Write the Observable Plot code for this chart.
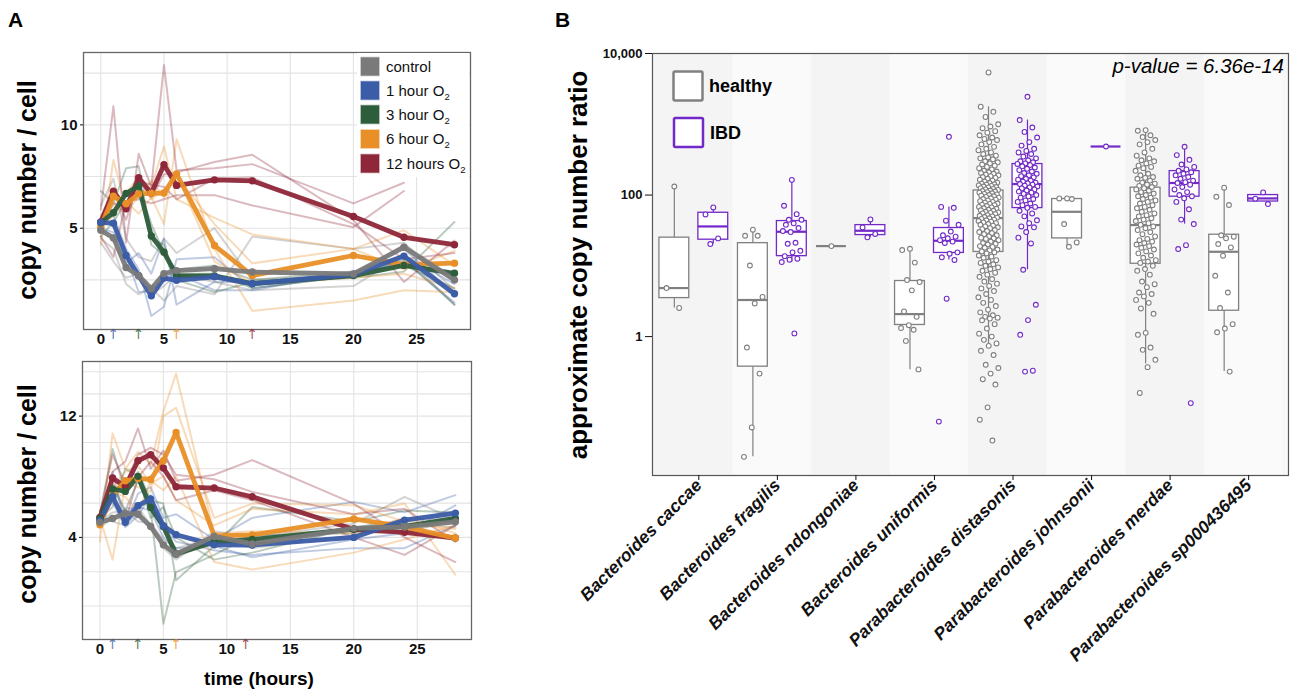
<!DOCTYPE html>
<html>
<head>
<meta charset="utf-8">
<script src="https://cdn.jsdelivr.net/npm/d3@7"></script>
<script src="https://cdn.jsdelivr.net/npm/@observablehq/plot@0.6"></script>
<style>
  html, body { margin:0; padding:0; background:#fff; }
  #root { position:relative; width:1290px; height:692px; overflow:hidden; background:#fff; font-family:"Liberation Sans", Arial, Helvetica, sans-serif; }
  .plotB [aria-label="x-axis tick label"] text { font-style: italic; }
</style>
</head>
<body>
<div id="root"></div>
<script>
const FONT = '"Liberation Sans", Arial, Helvetica, sans-serif';

// ---------------- Panel A data ----------------
const times = [0, 1, 2, 3, 4, 5, 6, 9, 12, 20, 24, 28];
const conditions = ["control", "1 hour O₂", "3 hour O₂", "6 hour O₂", "12 hours O₂"];
const condColors = ["#7a7a7a", "#3b5ca6", "#2e5d3c", "#e88f27", "#8e2739"];
const o2EndTop = [1, 3, 6, 12];
const o2EndBottom = [1, 3, 6, 11.5];
const xTicksA = [0, 5, 10, 15, 20, 25];
const topYTicks = [5, 10];
const bottomYTicks = [4, 12];

// top panel: mean trajectories
const topMeanControl = [4.9, 4.53, 3.1, 2.7, 2.07, 2.8, 2.95, 3.04, 2.88, 2.79, 4.08, 2.5];
const topMean1h = [5.28, 5.24, 3.68, 2.7, 1.73, 2.59, 2.48, 2.65, 2.31, 2.76, 3.65, 1.83];
const topMean3h = [5.26, 5.75, 6.68, 7.05, 4.62, 3.84, 2.69, 2.69, 2.32, 2.71, 3.2, 2.82];
const topMean6h = [5.05, 6.55, 6.18, 6.66, 6.69, 6.7, 7.63, 4.16, 2.71, 3.68, 3.24, 3.31];
const topMean12h = [5.3, 6.79, 5.94, 7.44, 6.69, 8.07, 7.07, 7.34, 7.29, 5.57, 4.56, 4.2];

// top panel: replicates
const topRepsControl = [
  [6.1, 7.4, 4.5, 3.6, 3.4, 4.5, 3.8, 5.0, 2.5, 2.7, 4.2, 2.6],
  [4.5, 4.0, 2.3, 1.8, 2.1, 1.5, 2.2, 1.8, 4.6, 4.0, 4.3, 2.0],
  [4.3, 3.4, 2.6, 2.8, 1.8, 2.2, 2.8, 2.4, 2.0, 2.2, 3.7, 1.3]
];
const topReps1h = [
  [5.5, 5.6, 4.0, 3.0, 0.75, 1.2, 3.5, 3.6, 2.1, 2.7, 3.4, 1.4],
  [5.0, 4.8, 3.3, 3.8, 2.8, 4.5, 1.3, 2.4, 2.4, 2.8, 4.0, 1.8],
  [5.3, 5.2, 3.7, 1.9, 2.0, 2.6, 2.8, 2.0, 2.0, 2.9, 3.7, 2.3]
];
const topReps3h = [
  [6.8, 6.2, 7.9, 8.0, 4.5, 4.2, 2.5, 1.9, 2.4, 2.6, 2.9, 5.3],
  [4.6, 5.3, 6.3, 7.0, 5.2, 3.8, 2.8, 2.8, 2.1, 2.7, 3.5, 1.3],
  [4.9, 6.6, 6.1, 7.3, 4.2, 3.7, 3.0, 3.2, 2.5, 2.9, 3.2, 2.1]
];
const topReps6h = [
  [4.2, 8.3, 6.0, 6.7, 7.0, 8.95, 6.4, 5.5, 4.7, 4.0, 4.9, 3.2],
  [5.0, 5.6, 6.3, 5.7, 6.5, 5.2, 9.3, 4.0, 1.0, 1.5, 2.0, 1.9],
  [5.6, 6.6, 5.8, 6.5, 7.3, 6.5, 7.6, 3.4, 2.3, 2.6, 2.8, 2.1],
  [5.3, 6.1, 6.7, 7.5, 6.4, 6.8, 7.5, 5.2, 3.3, 4.0, 3.0, 3.9]
];
const topReps12h = [
  [5.9, 10.9, 4.3, 8.6, 7.0, 12.9, 7.8, 7.9, 8.1, 6.2, 7.2, null],
  [5.2, 6.2, 6.0, 7.4, 6.5, 7.6, 7.7, 8.2, 8.55, 5.4, 2.4, 4.4],
  [4.6, 3.6, 6.3, 6.4, 6.2, 6.4, 6.6, 6.6, 6.1, 5.05, 6.8, null],
  [5.4, 6.8, 5.4, 7.3, 7.1, 7.0, 6.4, 7.4, 7.45, 5.2, 3.5, 3.8]
];

// bottom panel: mean trajectories
const botMeanControl = [4.76, 4.97, 5.24, 5.2, 4.55, 3.65, 3.24, 4.05, 3.69, 4.45, 4.53, 4.79];
const botMean1h = [4.85, 6.22, 4.76, 5.68, 6.07, 4.58, 4.13, 3.65, 3.64, 4.0, 4.88, 5.26];
const botMean3h = [4.97, 6.68, 6.53, 7.49, 5.58, 4.55, 3.24, 3.78, 3.9, 4.41, 4.55, 4.97];
const botMean6h = [4.64, 6.33, 7.2, 7.35, 7.29, 8.56, 10.67, 4.08, 4.12, 4.94, 4.53, 3.97];
const botMean12h = [5.02, 7.38, 6.82, 8.56, 8.99, 8.05, 6.82, 6.74, 6.2, 4.4, 4.25, 3.97];

// bottom panel: replicates
const botRepsControl = [
  [4.5, 5.0, 5.5, 5.6, 4.6, 3.5, 3.0, 4.3, 4.0, 4.7, 6.2, 4.9],
  [5.0, 4.8, 4.6, 5.3, 4.4, 3.6, 3.1, 3.9, 3.5, 4.1, 4.7, 4.5],
  [4.8, 5.3, 5.4, 4.8, 4.7, 3.9, 3.5, 4.0, 3.6, 4.5, 4.9, 5.0]
];
const botReps1h = [
  [4.5, 7.8, 4.6, 6.4, 6.8, 5.0, 5.2, 3.9, 5.0, 5.9, 5.3, 6.3],
  [5.0, 5.9, 4.5, 5.1, 6.3, 4.5, 3.8, 3.4, 3.2, 3.5, 3.5, 4.6],
  [4.9, 6.8, 5.3, 5.6, 5.4, 4.0, 3.5, 3.6, 3.1, 3.9, 4.2, 5.7]
];
const botReps3h = [
  [5.2, 9.4, 6.5, 7.8, 6.0, 5.8, 2.2, 3.6, 5.6, 4.8, 5.4, 5.3],
  [4.6, 7.0, 5.4, 7.2, 5.5, 0.92, 2.5, 3.2, 4.1, 4.2, 4.3, 4.8],
  [5.0, 5.6, 8.0, 7.5, 5.0, 5.6, 4.0, 3.0, 3.3, 4.5, 4.8, null]
];
const botReps6h = [
  [3.8, 10.6, 8.0, 9.2, 8.3, 12.4, 15.8, 4.2, 4.3, 4.2, 5.0, 4.2],
  [5.0, 3.0, 7.0, 6.8, 6.5, 12.0, 12.7, 5.0, 5.8, 5.7, 4.8, 4.4],
  [4.5, 6.5, 6.2, 5.3, 7.2, 6.6, 7.5, 2.9, 2.6, 3.3, 3.9, 4.6],
  [5.2, 6.8, 7.8, 8.2, 7.0, 7.5, 6.0, 4.6, 5.5, 5.2, 5.8, 2.4]
];
const botReps12h = [
  [4.7, 7.8, 8.5, 11.0, 8.0, 9.3, 7.2, 7.6, 8.6, 5.8, 4.0, 2.9],
  [5.2, 9.0, 7.0, 9.0, 9.5, 9.0, 7.6, 7.3, 6.5, 5.2, 5.5, 3.8],
  [5.4, 6.0, 4.8, 7.4, 8.5, 7.5, 6.0, 6.6, 6.0, 4.0, 3.2, 4.6]
];

// ---------------- Panel B data ----------------
const species = ["Bacteroides caccae", "Bacteroides fragilis", "Bacteroides ndongoniae", "Bacteroides uniformis",
  "Parabacteroides distasonis", "Parabacteroides johnsonii", "Parabacteroides merdae", "Parabacteroides sp000436495"];

const healthyQ1  = [3.5, 0.376, 19, 1.46, 15.7, 24.4, 10.7, 2.32];
const healthyMed = [4.85, 3.29, 19, 2.08, 47.3, 58, 37.7, 15.8];
const healthyQ3  = [25, 20.9, 19, 6.1, 116, 87.8, 127, 27.5];
const healthyLo  = [2.54, 0.02, 19, 0.34, 0.74, 18.6, 0.41, 0.32];
const healthyHi  = [132, 32.4, 19, 17.4, 1765, 89.6, 828, 127];

const ibdQ1  = [23.4, 13.7, 27.2, 15.2, 65.5, 485, 94.8, 81];
const ibdMed = [36, 30.3, 31.3, 22.6, 143, 485, 148, 89.6];
const ibdQ3  = [56.2, 42.9, 37.6, 34.2, 274, 485, 218, 100];
const ibdLo  = [20.3, 11.3, 25.3, 12.1, 8.8, 485, 38.9, 81];
const ibdHi  = [64.6, 164, 45.2, 68, 1148, 485, 481, 109];

const caccaeH = [132, 4.85, 2.54];
const caccaeI = [66.9, 53.2, 24.4, 20.3];
const fragilisH = [32.4, 26.6, 26.6, 10.1, 3.63, 2.94, 0.70, 0.30, 0.052, 0.02];
const fragilisI = [164, 70.6, 53.7, 44.8, 44.8, 39.8, 38, 34.2, 30, 31, 21.2, 20.5, 16.3, 15.5, 13.7, 12.6, 12.2, 11.3, 1.11];
const ndongoniaeH = [19];
const ndongoniaeI = [45.2, 34.9, 28.2, 25.3];
const uniformisH = [17.4, 16.7, 11.1, 6.3, 5.9, 4.5, 2.27, 1.9, 1.45, 1.32, 1.25, 0.87, 0.344];
const uniformisI = [665, 68, 66, 43.4, 38, 30.5, 27, 25.8, 24.5, 23, 22, 21, 15.5, 14.8, 13.2, 12.1, 3.43, 0.063];
const distasonisH = [5400, 1770, 1500, 1270, 1000, 930, 880, 800, 760, 700, 650, 620, 600, 560, 520, 480, 450, 430, 400, 380,
  360, 340, 330, 320, 300, 290, 280, 270, 260, 250, 240, 230, 220, 215, 210, 205, 200, 195, 190, 185, 180, 175, 170, 165,
  160, 155, 150, 148, 145, 142, 140, 137, 135, 132, 130, 128, 125, 122, 120, 118, 116, 114, 112, 110, 108, 106, 104, 102,
  100, 98, 96, 94, 92, 90, 88, 86, 84, 82, 80, 78, 76, 75, 73, 72, 70, 68, 67, 65, 64, 62, 61, 60, 58, 57, 56, 55, 54, 52,
  51, 50, 49, 48, 47, 46, 45, 44, 43, 42, 41, 40, 39, 38, 37, 36, 35, 34, 33, 32, 31, 30, 29, 28, 27, 26, 25, 24.5, 24, 23,
  22, 21, 20.5, 20, 19, 18.5, 18, 17, 16.5, 16, 15.5, 15, 14, 13.5, 13, 12, 11.5, 11, 10.5, 10, 9.5, 9, 8.5, 8, 7.5, 7, 6.5,
  6, 5.6, 5.2, 4.8, 4.4, 4, 3.6, 3.3, 3, 2.7, 2.4, 2.2, 2, 1.9, 1.85, 1.8, 1.7, 1.5, 1.3, 1.1, 1.0, 0.9, 0.8, 0.74, 0.63,
  0.55, 0.4, 0.36, 0.3, 0.25, 0.21, 0.1, 0.067, 0.034];
const distasonisI = [2443, 1148, 900, 780, 650, 560, 500, 450, 420, 400, 380, 350, 330, 310, 300, 290, 280, 275, 265, 255,
  245, 235, 225, 215, 205, 200, 190, 185, 178, 170, 165, 160, 155, 150, 146, 143, 140, 136, 132, 128, 124, 120, 116, 112,
  108, 104, 100, 96, 92, 88, 84, 80, 76, 72, 68, 66, 60, 55, 50, 44, 40, 36, 35, 30, 25, 20.7, 8.8, 2.82, 1.71, 1.06, 0.33, 0.32];
const johnsoniiH = [89.6, 89.6, 88, 38.9, 21.4, 18.6];
const johnsoniiI = [485];
const merdaeH = [828, 810, 700, 660, 600, 560, 520, 450, 400, 360, 330, 310, 300, 280, 260, 250, 240, 220, 200, 190, 180,
  175, 170, 160, 150, 145, 140, 135, 130, 125, 120, 115, 110, 105, 100, 96, 92, 88, 84, 80, 76, 72, 68, 65, 62, 58, 55, 52,
  50, 47, 45, 43, 40, 38, 36, 34, 32, 30, 28, 26, 24, 23, 22, 21, 20, 19, 18, 17, 16, 15, 14, 13, 12, 11.5, 11, 10, 9, 8.5,
  7.5, 6, 5.5, 5, 4.2, 4, 3.7, 3.3, 3, 2.5, 2.1, 1.13, 1.06, 0.7, 0.65, 0.47, 0.37, 0.16];
const merdaeI = [481, 367, 315, 270, 250, 230, 220, 210, 200, 190, 180, 170, 160, 152, 148, 140, 130, 120, 110, 100, 96, 90,
  80, 63, 45, 38.9, 19.6, 17.3, 0.115];
const spH = [127, 94.6, 72.4, 27, 25.8, 24.5, 20.3, 18.2, 13.9, 7.24, 4.2, 2.53, 1.5, 1.3, 1.15, 0.32];
const spI = [109, 89, 74.6];

const healthyPoints = [caccaeH, fragilisH, ndongoniaeH, uniformisH, distasonisH, johnsoniiH, merdaeH, spH];
const ibdPoints = [caccaeI, fragilisI, ndongoniaeI, uniformisI, distasonisI, johnsoniiI, merdaeI, spI];

// ---------------- Build rows ----------------
const root = document.getElementById("root");
function place(el, left, top) {
  el.style.position = "absolute";
  el.style.left = left + "px";
  el.style.top = top + "px";
  root.appendChild(el);
}
function repRows(groups, prefix) {
  const rows = [];
  groups.forEach((reps, c) => reps.forEach((vals, r) => vals.forEach((v, j) => {
    if (v != null) rows.push({t: times[j], v, c: conditions[c], id: prefix + c + "-" + r});
  })));
  return rows;
}
function meanRows(means) {
  const rows = [];
  [4, 3, 2, 1, 0].forEach(c => means[c].forEach((v, j) => rows.push({t: times[j], v, c: conditions[c]})));
  return rows;
}
const topRepRows = repRows([topRepsControl, topReps1h, topReps3h, topReps6h, topReps12h], "t");
const botRepRows = repRows([botRepsControl, botReps1h, botReps3h, botReps6h, botReps12h], "b");
const topMeanRows = meanRows([topMeanControl, topMean1h, topMean3h, topMean6h, topMean12h]);
const botMeanRows = meanRows([botMeanControl, botMean1h, botMean3h, botMean6h, botMean12h]);
const arrowRowsTop = o2EndTop.map((t, i) => ({t, c: conditions[i + 1]}));
const arrowRowsBot = o2EndBottom.map((t, i) => ({t, c: conditions[i + 1]}));

// grid values (ggplot-style major + minor)
const topGridVals = [2.5, 5, 7.5, 10, 12.5];
const sqrtMajors = [4, 8, 12, 16].map(Math.sqrt);
const sqrtStep = sqrtMajors[1] - sqrtMajors[0];
const sqrtAll = [sqrtMajors[0] - sqrtStep, ...sqrtMajors];
const botGridVals = [];
sqrtAll.forEach((s, k) => {
  botGridVals.push(s * s);
  if (k < sqrtAll.length - 1) botGridVals.push(((s + sqrtAll[k + 1]) / 2) ** 2);
});

const gridCol = "#e3e3e3";
function panelA(opts) {
  return Plot.plot({
    width: 480, height: opts.height,
    marginLeft: opts.ml, marginRight: opts.mr, marginTop: opts.mt, marginBottom: opts.mb,
    x: {domain: [-1.37, 29.27], axis: null},
    y: {...opts.y, axis: null},
    color: {domain: conditions, range: condColors},
    style: {fontFamily: FONT, background: "transparent", overflow: "visible", color: "#111"},
    marks: [
      Plot.gridX(xTicksA, {stroke: gridCol, strokeOpacity: 1, strokeWidth: 1.1}),
      Plot.gridY(opts.grid, {stroke: gridCol, strokeOpacity: 1, strokeWidth: 1.1}),
      Plot.line(opts.reps, {x: "t", y: "v", z: "id", stroke: "c", strokeWidth: 2, strokeOpacity: 0.32}),
      Plot.line(opts.means, {x: "t", y: "v", z: "c", stroke: "c", strokeWidth: 4.8, strokeOpacity: 0.95, strokeLinejoin: "round"}),
      Plot.dot(opts.means, {x: "t", y: "v", fill: "c", r: 3.7}),
      Plot.frame({stroke: "#666", strokeWidth: 1.3}),
      Plot.axisY(opts.yTicks, {tickSize: 3, tickPadding: 3, fontSize: 15, fontWeight: "bold", label: null}),
      Plot.axisX(xTicksA, {tickSize: 0, tickPadding: 4, fontSize: 15, fontWeight: "bold", label: null}),
      Plot.text(opts.arrows, {x: "t", fill: "c", text: () => "↑", frameAnchor: "bottom", lineAnchor: "top", dy: 0,
        fontSize: 14, fontFamily: "DejaVu Sans", fillOpacity: 0.8})
    ]
  });
}

const topPlot = panelA({height: 345, ml: 83, mr: 10, mt: 52, mb: 16,
  y: {domain: [0.1, 13.5]}, grid: topGridVals, yTicks: topYTicks,
  reps: topRepRows, means: topMeanRows, arrows: arrowRowsTop});
place(topPlot, 0, 0);

const botPlot = panelA({height: 347, ml: 82, mr: 9, mt: 16, mb: 53,
  y: {type: "sqrt", domain: [0.59, 17.0]}, grid: botGridVals, yTicks: bottomYTicks,
  reps: botRepRows, means: botMeanRows, arrows: arrowRowsBot});
place(botPlot, 0, 345);

// ---------------- Panel B ----------------
const xDomB = [-0.526, 7.571];
const idx = d3.range(species.length);
function boxRows(q1, med, q3, lo, hi) {
  return idx.map(i => ({i, q1: q1[i], med: med[i], q3: q3[i], lo: lo[i], hi: hi[i]}));
}
const jit = k => (((k * 0.6180339887 + 0.5) % 1) - 0.5) * 0.26;
function pointRows(groups) {
  return groups.flatMap((vals, i) => vals.map((v, k) => ({i, v, j: jit(k)})));
}
const hBoxes = boxRows(healthyQ1, healthyMed, healthyQ3, healthyLo, healthyHi);
const iBoxes = boxRows(ibdQ1, ibdMed, ibdQ3, ibdLo, ibdHi);
const hPts = pointRows(healthyPoints);
const iPts = pointRows(ibdPoints);
const healthyColor = "#808080";
const ibdColor = "#7229c7";

function groupMarks(boxes, pts, color, off) {
  const hw = 0.19;
  return [
    Plot.ruleX(boxes, {x: d => d.i + off, y1: "q3", y2: "hi", stroke: color, strokeWidth: 1.2}),
    Plot.ruleX(boxes, {x: d => d.i + off, y1: "lo", y2: "q1", stroke: color, strokeWidth: 1.2}),
    Plot.rect(boxes, {x1: d => d.i + off - hw, x2: d => d.i + off + hw, y1: "q1", y2: "q3", fill: "white", stroke: color, strokeWidth: 1.3}),
    Plot.ruleY(boxes, {y: "med", x1: d => d.i + off - hw, x2: d => d.i + off + hw, stroke: color, strokeWidth: 2.2}),
    Plot.dot(pts, {x: d => d.i + off + d.j, y: "v", r: 2.4, stroke: color, fill: "white", strokeWidth: 1.1})
  ];
}

const plotB = Plot.plot({
  className: "plotB",
  width: 730, height: 692,
  marginLeft: 92, marginRight: 2, marginTop: 53, marginBottom: 217,
  x: {domain: xDomB, axis: null},
  y: {type: "log", domain: [0.0109, 10000], axis: null},
  style: {fontFamily: FONT, background: "transparent", overflow: "visible", color: "#111"},
  marks: [
    Plot.frame({fill: "#f7f7f7"}),
    Plot.rect(idx.filter(i => i % 2 === 0), {x1: i => Math.max(i - 0.5, xDomB[0]), x2: i => Math.min(i + 0.5, xDomB[1]), fill: "#f4f4f4"}),
    Plot.rect(idx.filter(i => i % 2 === 1), {x1: i => Math.max(i - 0.5, xDomB[0]), x2: i => Math.min(i + 0.5, xDomB[1]), fill: "#fafafa"}),
    ...groupMarks(hBoxes, hPts, healthyColor, -0.248),
    ...groupMarks(iBoxes, iPts, ibdColor, 0.248),
    Plot.frame({stroke: "#555", strokeWidth: 1.2}),
    Plot.axisY([1, 100, 10000], {tickFormat: d3.format(","), tickSize: 7, tickPadding: 3, fontSize: 13, fontWeight: "bold", label: null}),
    Plot.axisX(idx, {tickFormat: i => species[i], tickRotate: -45, tickSize: 5, tickPadding: 2, dx: 5,
      fontSize: 17.5, fontWeight: "bold", fontStyle: "italic", label: null})
  ]
});
place(plotB, 560, 0);

// ---------------- Overlay text, legends ----------------
const ov = d3.create("svg").attr("width", 1290).attr("height", 692)
  .style("font-family", FONT).style("pointer-events", "none").style("overflow", "visible");
place(ov.node(), 0, 0);

ov.append("text").attr("x", 8).attr("y", 27).attr("font-size", 21).attr("font-weight", "bold").text("A");
ov.append("text").attr("x", 555).attr("y", 27).attr("font-size", 21).attr("font-weight", "bold").text("B");

[190, 494].forEach(cy => {
  ov.append("text").attr("transform", `translate(36,${cy}) rotate(-90)`).attr("text-anchor", "middle")
    .attr("font-size", 25).attr("font-weight", "bold").text("copy number / cell");
});
ov.append("text").attr("x", 259).attr("y", 685).attr("text-anchor", "middle")
  .attr("font-size", 19).attr("font-weight", "bold").text("time (hours)");
ov.append("text").attr("transform", "translate(587,265) rotate(-90)").attr("text-anchor", "middle")
  .attr("font-size", 26).attr("font-weight", "bold").text("approximate copy number ratio");
ov.append("text").attr("x", 1284).attr("y", 73).attr("text-anchor", "end")
  .attr("font-size", 20.5).attr("font-style", "italic").text("p-value = 6.36e-14");

// Legend A
ov.append("rect").attr("x", 357).attr("y", 53).attr("width", 112).attr("height", 124).attr("fill", "white");
const keyTops = [57.5, 81.5, 105.5, 130, 154.5];
conditions.forEach((label, c) => {
  const y0 = keyTops[c];
  ov.append("rect").attr("x", 361).attr("y", y0).attr("width", 18).attr("height", 18)
    .attr("fill", condColors[c]).attr("stroke", condColors[c]).attr("stroke-opacity", 0.5).attr("stroke-width", 1.5);
  const base = label.replace("₂", "");
  const t = ov.append("text").attr("x", 386).attr("y", y0 + 14).attr("font-size", 15).attr("fill", "#111");
  t.append("tspan").text(base);
  if (base !== label) t.append("tspan").attr("font-size", 9.5).attr("dy", 4).text("2");
});

// Legend B
ov.append("rect").attr("x", 673.5).attr("y", 71.5).attr("width", 29).attr("height", 29).attr("rx", 1.5)
  .attr("fill", "white").attr("stroke", healthyColor).attr("stroke-width", 2.5);
ov.append("text").attr("x", 709).attr("y", 92).attr("font-size", 18).attr("font-weight", "bold").text("healthy");
ov.append("rect").attr("x", 674).attr("y", 118).attr("width", 29).attr("height", 29).attr("rx", 1.5)
  .attr("fill", "white").attr("stroke", ibdColor).attr("stroke-width", 2.5);
ov.append("text").attr("x", 710).attr("y", 138.5).attr("font-size", 18).attr("font-weight", "bold").text("IBD");
</script>
</body>
</html>
